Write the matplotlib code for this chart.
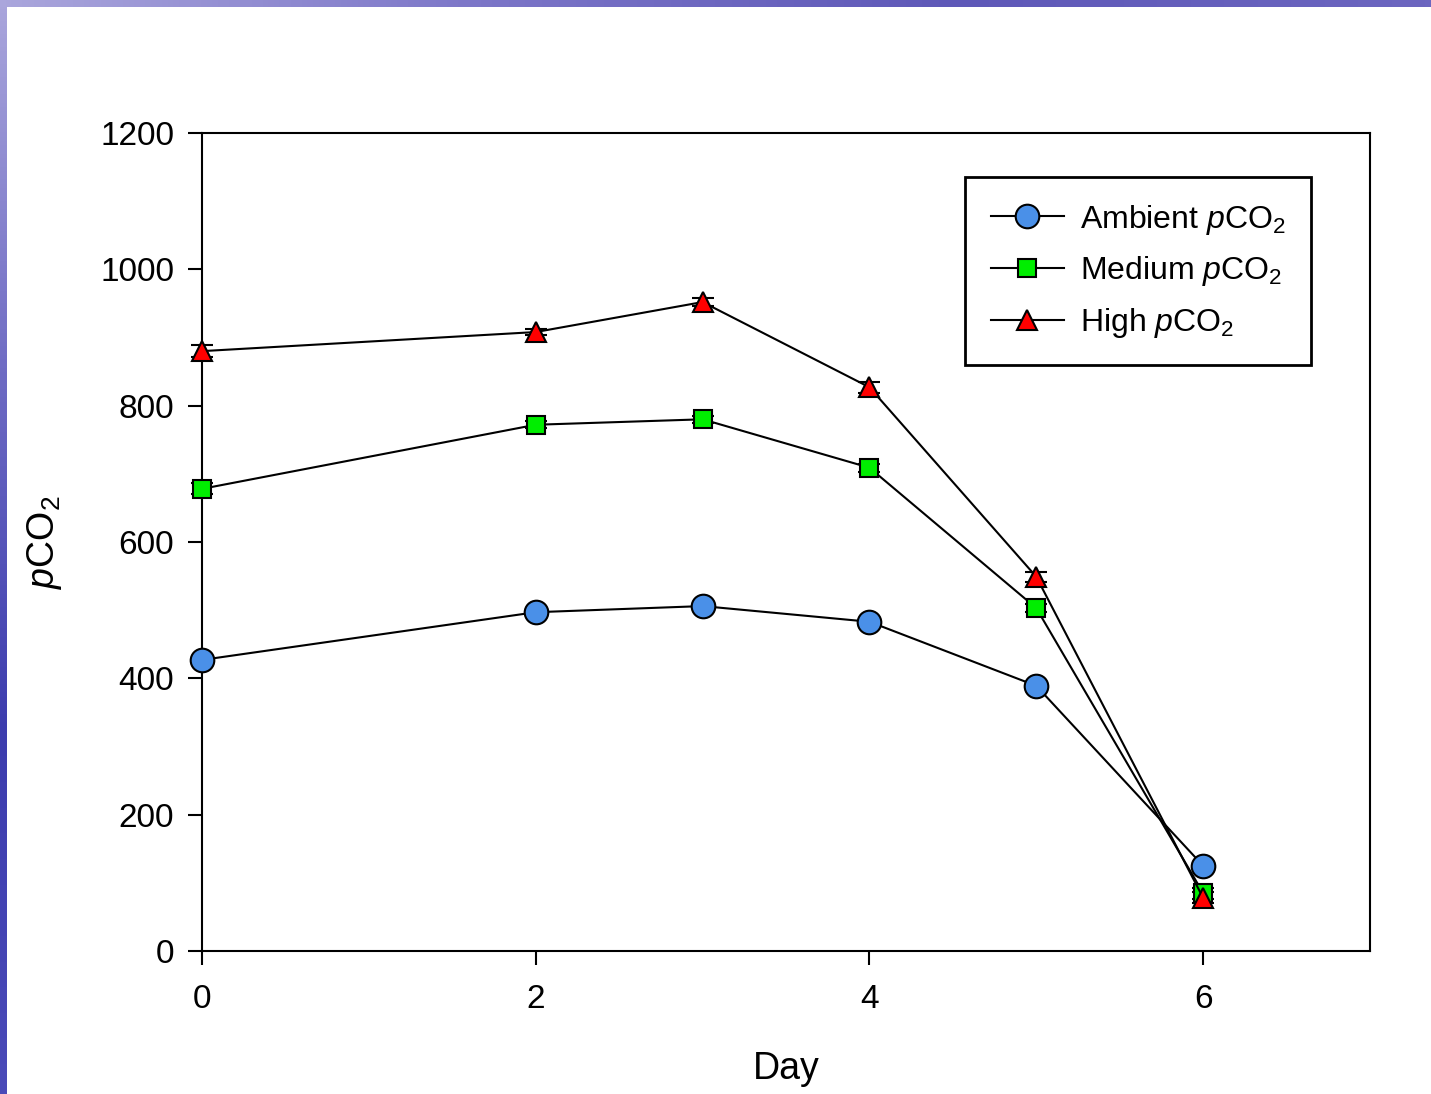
import numpy as np
import matplotlib
matplotlib.use("Agg")
import matplotlib.pyplot as plt
from matplotlib.colors import LinearSegmentedColormap
from matplotlib.lines import Line2D

plt.rcParams['font.family'] = ['Liberation Sans', 'DejaVu Sans']
plt.rcParams['mathtext.fontset'] = 'custom'
plt.rcParams['mathtext.rm'] = 'Liberation Sans'
plt.rcParams['mathtext.it'] = 'Liberation Sans:italic'

# Данные
days = [0, 2, 3, 4, 5, 6]
ambient = [427, 497, 506, 483, 389, 125]
ambient_err = [4, 4, 4, 4, 4, 4]
medium = [678, 772, 780, 709, 503, 85]
medium_err = [8, 5, 5, 6, 6, 8]
high = [880, 908, 952, 827, 549, 78]
high_err = [9, 5, 6, 8, 7, 8]

series_labels = ["Ambient $p$CO$_2$", "Medium $p$CO$_2$", "High $p$CO$_2$"]

W, H = 1431, 1094
fig = plt.figure(figsize=(W / 100, H / 100), dpi=100)
fig.patch.set_facecolor("white")

# фоновые полосы слайда (слева и сверху)
cmap_left = LinearSegmentedColormap.from_list("l", ["#aaa6dc", "#6f6cc4", "#3c3cae", "#4a4ab8"])
cmap_top = LinearSegmentedColormap.from_list("t", ["#aaa6dc", "#7c76c8", "#5e58b8", "#6c66c0"])
ax_l = fig.add_axes([0, 0, 7 / W, 1])
ax_l.imshow(np.linspace(0, 1, 256).reshape(-1, 1), aspect="auto", cmap=cmap_left)
ax_l.axis("off")
ax_t = fig.add_axes([0, 1 - 7 / H, 1, 7 / H])
ax_t.imshow(np.linspace(0, 1, 256).reshape(1, -1), aspect="auto", cmap=cmap_top)
ax_t.axis("off")

ax = fig.add_axes([202 / W, 1 - 951 / H, (1370 - 202) / W, (951 - 133) / H])

styles = [
    dict(marker="o", mfc="#4a90e8", ms=17),
    dict(marker="s", mfc="#00ee00", ms=13),
    dict(marker="^", mfc="#ff0000", ms=15),
]
handles = []
for vals, errs, lab, st in zip([ambient, medium, high],
                               [ambient_err, medium_err, high_err],
                               series_labels, styles):
    ax.errorbar(days, vals, yerr=errs, color="black", lw=1.5, capsize=8,
                elinewidth=1.5, capthick=1.5, mec="black", mew=1.5,
                clip_on=False, zorder=3, **st)
    handles.append(Line2D([], [], color="black", lw=1.5, mec="black",
                          mew=1.5, label=lab, **st))

ax.set_xlim(0, 7)
ax.set_ylim(0, 1200)
ax.set_xticks([0, 2, 4, 6])
ax.set_yticks(range(0, 1201, 200))
ax.tick_params(direction="out", length=10, width=1.5, labelsize=24,
               top=False, right=False)
ax.tick_params(axis="y", pad=10)
ax.tick_params(axis="x", pad=14)
for s in ax.spines.values():
    s.set_linewidth(1.5)

ax.set_xlabel("Day", fontsize=27, labelpad=26)
ax.set_ylabel("$p$CO$_2$", fontsize=27, labelpad=26)

leg = ax.legend(handles=handles, loc="upper left",
                bbox_to_anchor=(965 / W, 1 - 177 / H),
                bbox_transform=fig.transFigure, fontsize=23, frameon=True,
                fancybox=False, edgecolor="black", framealpha=1,
                borderpad=0.8, handlelength=2.3, labelspacing=0.55,
                handletextpad=0.5, borderaxespad=0)
leg.get_frame().set_linewidth(2)

fig.savefig("out.png", dpi=100)
